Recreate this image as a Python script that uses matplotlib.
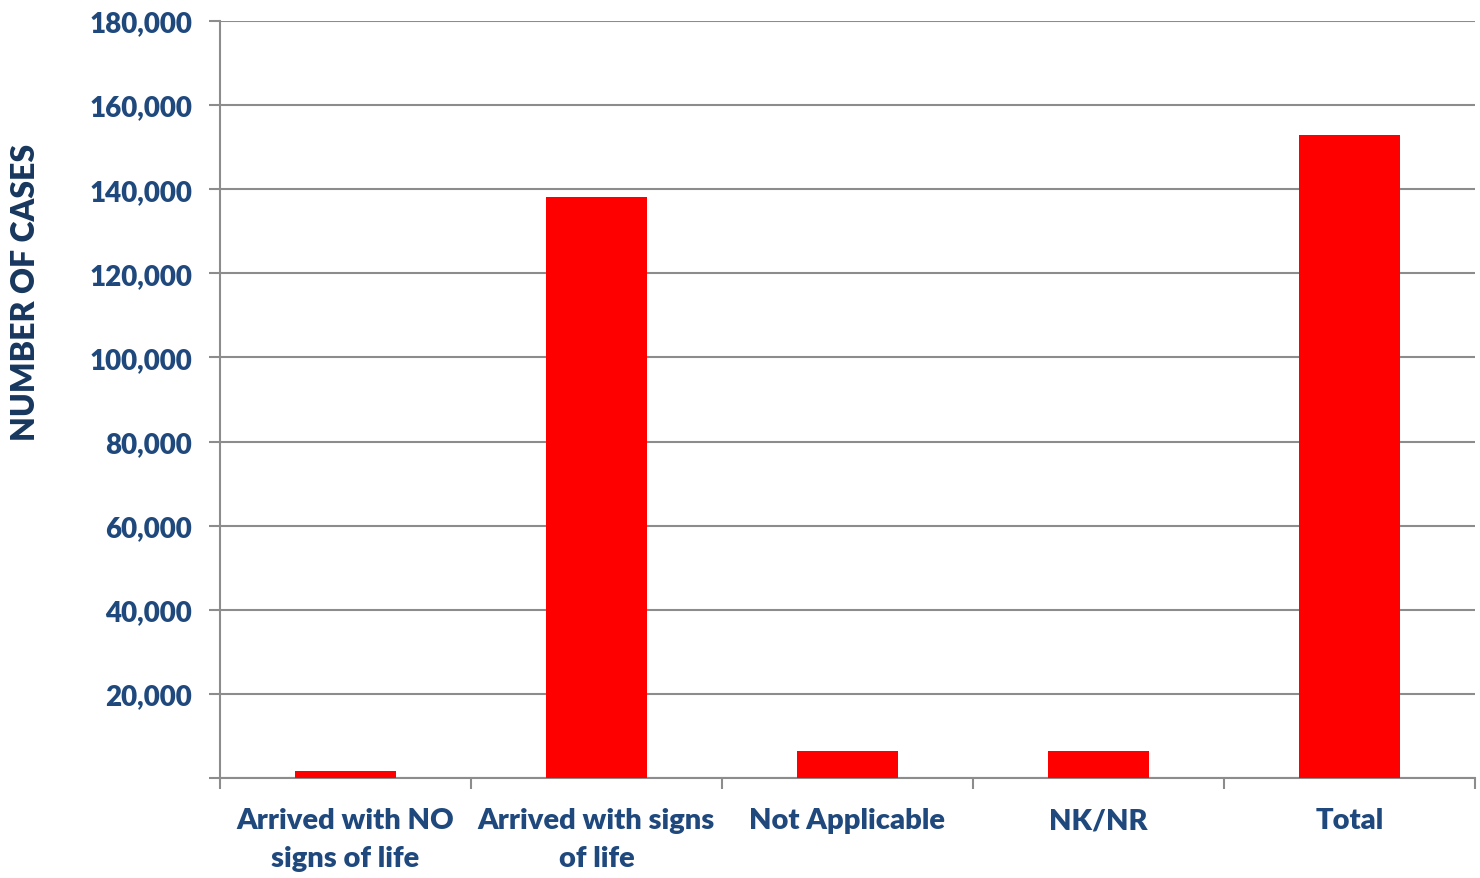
import matplotlib
matplotlib.use('Agg')
import matplotlib.pyplot as plt
from matplotlib.ticker import FuncFormatter

# datos
categorias = ['Arrived with NO\nsigns of life', 'Arrived with signs\nof life',
              'Not Applicable', 'NK/NR', 'Total']
casos = [1550, 138200, 6400, 6400, 152800]

azul = '#1F497D'
gris = '#8C8C8C'

plt.rcParams['font.family'] = ['Lato', 'DejaVu Sans']

fig = plt.figure(figsize=(14.8, 8.79), dpi=100)
ax = fig.add_axes([0.1486, 0.1138, 0.8480, 0.8612])

x = list(range(len(categorias)))
ax.bar(x, casos, width=0.4, color='#FF0000', zorder=3)

ax.set_xlim(-0.5, len(categorias) - 0.5)
ax.set_ylim(0, 180000)
ax.set_yticks(range(0, 180001, 20000))
ax.yaxis.set_major_formatter(FuncFormatter(lambda v, p: '' if v == 0 else f'{int(v):,}'))
ax.grid(axis='y', color=gris, linewidth=1.5, zorder=0)

# ticks del eje x en los limites de cada categoria
ax.set_xticks([i - 0.5 for i in range(len(categorias) + 1)])
ax.set_xticklabels([])
ax.set_xticks(x, minor=True)
ax.set_xticklabels(categorias, minor=True)
ax.tick_params(axis='x', which='major', length=8, width=1.5, color=gris)
ax.tick_params(axis='x', which='minor', length=0, pad=21, labelsize=21, labelcolor=azul)
ax.tick_params(axis='y', length=8, width=1.5, color=gris, labelsize=20, labelcolor=azul, pad=12)
for lbl in ax.get_xticklabels(minor=True) + ax.get_yticklabels():
    lbl.set_fontweight('heavy')
for lbl in ax.get_xticklabels(minor=True):
    lbl.set_linespacing(1.55)

for s in ['top', 'right']:
    ax.spines[s].set_visible(False)
for s in ['left', 'bottom']:
    ax.spines[s].set_color(gris)
    ax.spines[s].set_linewidth(1.5)

ax.set_ylabel('NUMBER OF CASES', fontsize=23, fontweight='heavy', color='#17375E')
ax.yaxis.set_label_coords(-0.143, 0.643)

fig.savefig('out.png', dpi=100)
